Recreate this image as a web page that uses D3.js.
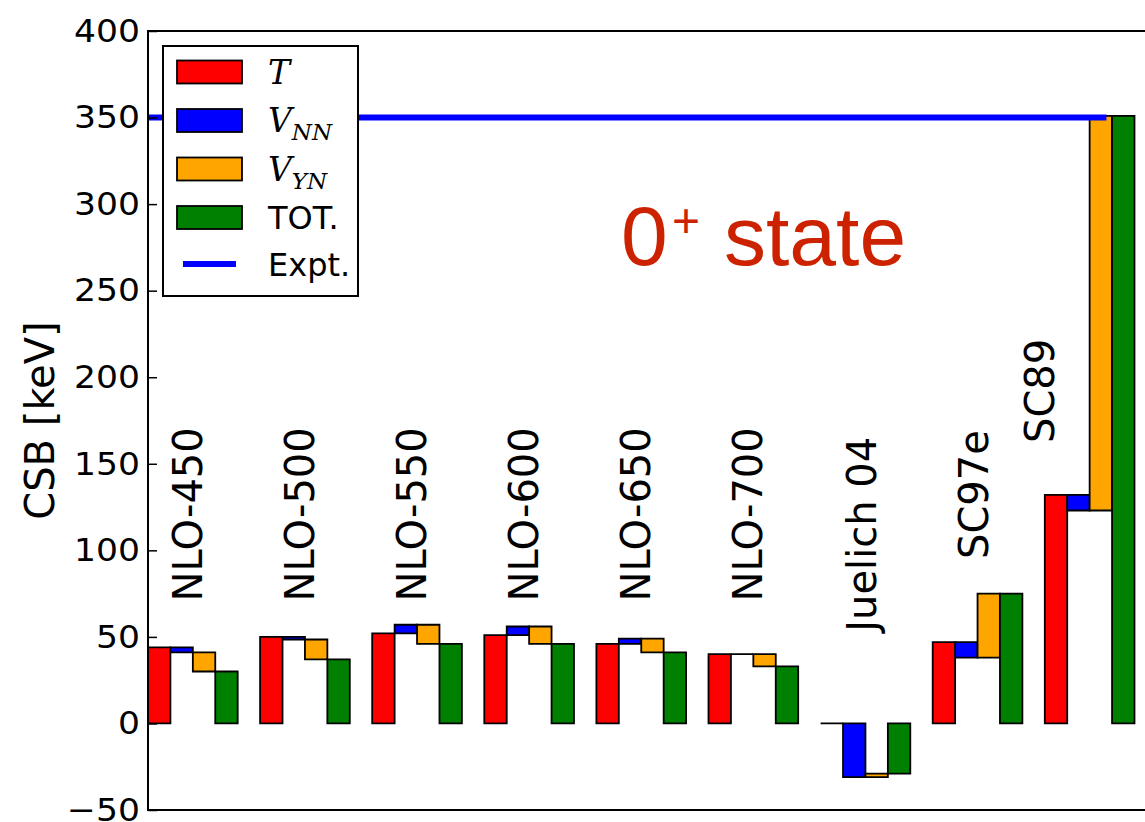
<!DOCTYPE html>
<html>
<head>
<meta charset="utf-8">
<script src="https://cdn.jsdelivr.net/npm/d3@7"></script>
<style>
  html, body { margin: 0; padding: 0; background: #fff; }
  svg { display: block; }
</style>
</head>
<body>
<svg id="chart" width="1145" height="822"></svg>
<script>
// Interaction models, one group of four bars each
const models = ["NLO-450", "NLO-500", "NLO-550", "NLO-600", "NLO-650", "NLO-700", "Juelich 04", "SC97e", "SC89"];
// Contributions to the charge symmetry breaking energy (keV)
const kinetic = [44, 50, 52, 51, 46, 40, 0, 47, 132];          // T
const vNN     = [-3, -1.5, 5, 5, 3, 0, -31, -9, -9];            // V_NN
const vYN     = [-11, -11.5, -11, -10, -8, -7, 2, 37, 228];     // V_YN
const total   = [30, 37, 46, 46, 41, 33, -29, 75, 351];         // TOT.
// Experimental value (keV)
const expt = 350;
const yTicks = [-50, 0, 50, 100, 150, 200, 250, 300, 350, 400];
// Model label anchors: baseline offset within the group and starting height (keV)
const labelOffset = [0.48, 0.48, 0.48, 0.48, 0.48, 0.48, 0.49, 0.49, 0.08];
const labelStart  = [70.5, 70.5, 70.5, 70.5, 70.5, 70.5, 53, 95, 162];

const svg = d3.select("#chart");
const plotLeft = 148, plotTop = 31, plotBottom = 810, unit = 112.1;
const x = d3.scaleLinear().domain([0, 9]).range([plotLeft, plotLeft + 9 * unit]);
const y = d3.scaleLinear().domain([-50, 400]).range([plotBottom, plotTop]);
const barW = 0.2;

const colors = { T: "#ff0000", VNN: "#0000ff", VYN: "#ffa500", TOT: "#008000" };

// Build the floating bars: each contribution starts where the previous ended
const bars = [];
models.forEach((m, i) => {
  const t = kinetic[i], a = t + vNN[i], b = a + vYN[i];
  bars.push({ x0: i,             from: 0, to: t,        c: colors.T });
  bars.push({ x0: i + barW,      from: t, to: a,        c: colors.VNN });
  bars.push({ x0: i + 2 * barW,  from: a, to: b,        c: colors.VYN });
  bars.push({ x0: i + 3 * barW,  from: 0, to: total[i], c: colors.TOT });
});

// Paths (not rects) so zero-height bars still show their edge
svg.append("g").selectAll("path").data(bars).join("path")
  .attr("d", d => {
    const xa = x(d.x0), xb = x(d.x0 + barW), ya = y(d.from), yb = y(d.to);
    return `M${xa},${ya}H${xb}V${yb}H${xa}Z`;
  })
  .attr("fill", d => d.c)
  .attr("stroke", "#000")
  .attr("stroke-width", 1.8)
  .attr("stroke-linejoin", "miter");

// Experimental line
svg.append("line")
  .attr("x1", x(0)).attr("x2", x(8.55))
  .attr("y1", y(expt)).attr("y2", y(expt))
  .attr("stroke", "#0000ff").attr("stroke-width", 6);

// Frame
svg.append("rect")
  .attr("x", plotLeft).attr("y", plotTop)
  .attr("width", 9 * unit).attr("height", plotBottom - plotTop)
  .attr("fill", "none").attr("stroke", "#000").attr("stroke-width", 2);

// Y axis with inward ticks
const yAxis = d3.axisLeft(y).tickValues(yTicks).tickSizeInner(-9).tickSizeOuter(0).tickPadding(0)
  .tickFormat(d => d < 0 ? "\u2212" + Math.abs(d) : d);
const ga = svg.append("g").attr("transform", `translate(${plotLeft},0)`).call(yAxis);
ga.select(".domain").remove();
ga.selectAll(".tick line").attr("stroke", "#000").attr("stroke-width", 1.5);
ga.selectAll(".tick text")
  .attr("x", null)
  .attr("transform", "translate(-8,0) scale(1.08,1)")
  .attr("font-family", "DejaVu Sans").attr("font-size", 32).attr("fill", "#000");

// Y axis title
svg.append("text")
  .attr("transform", `translate(54,${(plotTop + plotBottom) / 2}) rotate(-90)`)
  .attr("text-anchor", "middle")
  .attr("font-family", "DejaVu Sans").attr("font-size", 40)
  .text("CSB [keV]");

// Model labels, rotated
svg.append("g").selectAll("text").data(models).join("text")
  .attr("transform", (d, i) => `translate(${x(i + labelOffset[i])},${y(labelStart[i])}) rotate(-90)`)
  .attr("font-family", "DejaVu Sans").attr("font-size", 40)
  .text(d => d);

// State annotation
const st = svg.append("text")
  .attr("font-family", "Liberation Sans, Arial, sans-serif")
  .attr("fill", "#cc2200");
st.append("tspan").attr("x", 621).attr("y", 265).attr("font-size", 84).text("0");
st.append("tspan").attr("x", 672).attr("y", 237).attr("font-size", 48).text("+");
st.append("tspan").attr("x", 724).attr("y", 265).attr("font-size", 84).text("state");

// Legend
const lg = svg.append("g");
lg.append("rect").attr("x", 163).attr("y", 46).attr("width", 195).attr("height", 250)
  .attr("fill", "#fff").attr("stroke", "#000").attr("stroke-width", 2);
const legendRows = [
  { c: colors.T,   main: "T" },
  { c: colors.VNN, main: "V", sub: "NN" },
  { c: colors.VYN, main: "V", sub: "YN" },
  { c: colors.TOT, text: "TOT." }
];
const rowY = d3.scaleLinear().domain([0, 1]).range([72, 120.5]);
legendRows.forEach((r, k) => {
  const cy = rowY(k);
  lg.append("rect").attr("x", 177).attr("y", cy - 11.5).attr("width", 65).attr("height", 23)
    .attr("fill", r.c).attr("stroke", "#000").attr("stroke-width", 1.8);
  if (r.text) {
    lg.append("text").attr("x", 268).attr("y", cy + 11.5)
      .attr("font-family", "DejaVu Sans").attr("font-size", 32).text(r.text);
  } else {
    const t = lg.append("text").attr("x", 268).attr("y", cy + 11.5)
      .attr("font-family", "DejaVu Serif").attr("font-style", "italic").attr("font-size", 33);
    t.append("tspan").text(r.main);
    if (r.sub) t.append("tspan").attr("dy", 8).attr("dx", 0).attr("font-size", 23).text(r.sub);
  }
});
const ey = rowY(4) - 2;
lg.append("line").attr("x1", 183).attr("x2", 236).attr("y1", ey).attr("y2", ey)
  .attr("stroke", "#0000ff").attr("stroke-width", 6);
lg.append("text").attr("x", 268).attr("y", ey + 11.5)
  .attr("font-family", "DejaVu Sans").attr("font-size", 32).text("Expt.");
</script>
</body>
</html>
